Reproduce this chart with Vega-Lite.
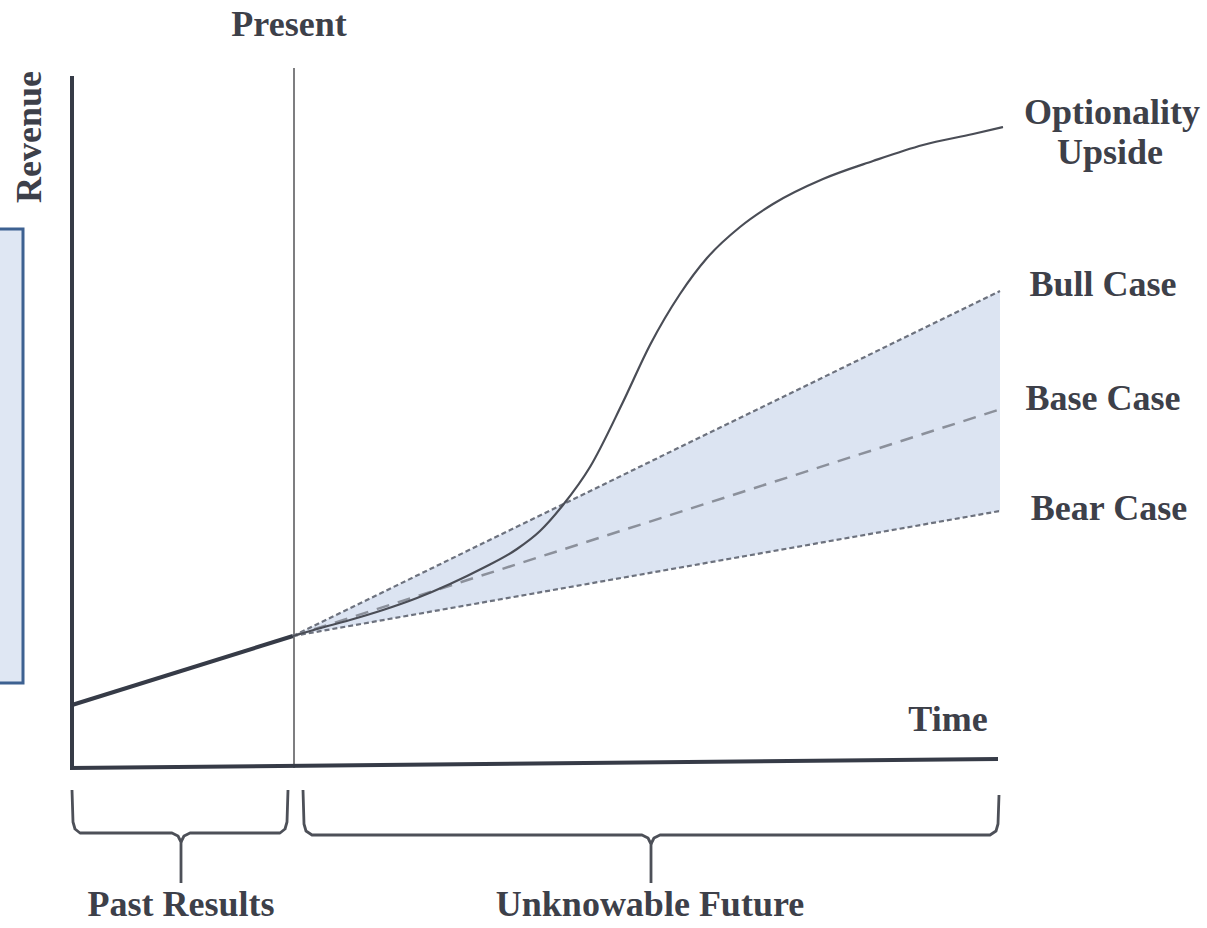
{
  "$schema": "https://vega.github.io/schema/vega-lite/v6.json",
  "autosize": {"type": "none"},
  "width": 1207,
  "height": 928,
  "padding": 0,
  "background": "white",
  "config": {"view": {"stroke": null}},
  "encoding": {
    "x": {"field": "x", "type": "quantitative", "scale": {"domain": [0, 1207], "nice": false, "zero": false}, "axis": null},
    "y": {"field": "y", "type": "quantitative", "scale": {"domain": [0, 928], "nice": false, "zero": false}, "axis": null}
  },
  "layer": [
    {
      "data": {"values": [{"x0": -5, "x1": 23, "y0": 245, "y1": 699}]},
      "mark": {"type": "rect", "fill": "#dfe7f3", "stroke": "#3d6191", "strokeWidth": 3},
      "encoding": {
        "x": {"field": "x0", "type": "quantitative"},
        "x2": {"field": "x1"},
        "y": {"field": "y0", "type": "quantitative"},
        "y2": {"field": "y1"}
      }
    },
    {
      "data": {"values": [{"x": 293, "hi": 292, "lo": 292}, {"x": 1000, "hi": 637, "lo": 417}]},
      "mark": {"type": "area", "fill": "#dce4f2", "opacity": 1},
      "encoding": {
        "y": {"field": "hi", "type": "quantitative"},
        "y2": {"field": "lo"}
      }
    },
    {
      "data": {"values": [
        {"id": "present", "x": 294, "y": 860},
        {"id": "present", "x": 294, "y": 160}
      ]},
      "mark": {"type": "line", "color": "#7e7e80", "strokeWidth": 2},
      "encoding": {"detail": {"field": "id"}}
    },
    {
      "data": {"values": [
        {"id": "yaxis", "x": 72, "y": 852},
        {"id": "yaxis", "x": 72, "y": 160},
        {"id": "xaxis", "x": 70, "y": 160},
        {"id": "xaxis", "x": 998, "y": 169},
        {"id": "past", "x": 72, "y": 223},
        {"id": "past", "x": 293, "y": 292}
      ]},
      "mark": {"type": "line", "color": "#363b47", "strokeWidth": 4},
      "encoding": {"detail": {"field": "id"}}
    },
    {
      "data": {"values": [
        {"id": "bull", "x": 293, "y": 292},
        {"id": "bull", "x": 1000, "y": 637},
        {"id": "bear", "x": 293, "y": 292},
        {"id": "bear", "x": 1000, "y": 417}
      ]},
      "mark": {"type": "line", "color": "#6d727e", "strokeWidth": 2.2, "strokeDash": [5, 3]},
      "encoding": {"detail": {"field": "id"}}
    },
    {
      "data": {"values": [
        {"x": 293, "y": 292},
        {"x": 998, "y": 518}
      ]},
      "mark": {"type": "line", "color": "#8b909b", "strokeWidth": 2.5, "strokeDash": [13, 9]}
    },
    {
      "data": {"values": [
        {"x": 293, "y": 292},
        {"x": 317, "y": 299},
        {"x": 350, "y": 308},
        {"x": 383, "y": 318},
        {"x": 417, "y": 330},
        {"x": 450, "y": 344},
        {"x": 483, "y": 360},
        {"x": 517, "y": 379},
        {"x": 540, "y": 397},
        {"x": 563, "y": 423},
        {"x": 590, "y": 461},
        {"x": 623, "y": 526},
        {"x": 650, "y": 583},
        {"x": 680, "y": 634},
        {"x": 707, "y": 670},
        {"x": 740, "y": 701},
        {"x": 773, "y": 724},
        {"x": 823, "y": 749},
        {"x": 873, "y": 767},
        {"x": 923, "y": 783},
        {"x": 973, "y": 794},
        {"x": 1003, "y": 801}
      ]},
      "mark": {"type": "line", "color": "#4a4d56", "strokeWidth": 2.2, "interpolate": "monotone"}
    },
    {
      "data": {"values": [
        {"id": "l1", "x": 72, "y": 138}, {"id": "l1", "x": 73, "y": 106}, {"id": "l1", "x": 75, "y": 99}, {"id": "l1", "x": 80, "y": 95}, {"id": "l1", "x": 172, "y": 95}, {"id": "l1", "x": 178, "y": 92}, {"id": "l1", "x": 181, "y": 86}, {"id": "l1", "x": 181, "y": 45},
        {"id": "l2", "x": 181, "y": 86}, {"id": "l2", "x": 184, "y": 92}, {"id": "l2", "x": 190, "y": 95}, {"id": "l2", "x": 280, "y": 95}, {"id": "l2", "x": 285, "y": 99}, {"id": "l2", "x": 287, "y": 106}, {"id": "l2", "x": 288, "y": 138},
        {"id": "r1", "x": 303, "y": 138}, {"id": "r1", "x": 304, "y": 104}, {"id": "r1", "x": 306, "y": 97}, {"id": "r1", "x": 312, "y": 93}, {"id": "r1", "x": 642, "y": 93}, {"id": "r1", "x": 648, "y": 90}, {"id": "r1", "x": 651, "y": 84}, {"id": "r1", "x": 651, "y": 45},
        {"id": "r2", "x": 651, "y": 84}, {"id": "r2", "x": 654, "y": 90}, {"id": "r2", "x": 660, "y": 93}, {"id": "r2", "x": 990, "y": 93}, {"id": "r2", "x": 996, "y": 97}, {"id": "r2", "x": 998, "y": 104}, {"id": "r2", "x": 999, "y": 133}
      ]},
      "mark": {"type": "line", "color": "#4d5058", "strokeWidth": 2.8, "strokeJoin": "round"},
      "encoding": {"detail": {"field": "id"}}
    },
    {
      "data": {"values": [
        {"label": "Present", "x": 289, "y": 903},
        {"label": "Optionality", "x": 1112, "y": 815},
        {"label": "Upside", "x": 1110, "y": 775},
        {"label": "Bull Case", "x": 1103, "y": 643},
        {"label": "Base Case", "x": 1103, "y": 529},
        {"label": "Bear Case", "x": 1109, "y": 419},
        {"label": "Time", "x": 948, "y": 208},
        {"label": "Past Results", "x": 181, "y": 23},
        {"label": "Unknowable Future", "x": 650, "y": 23}
      ]},
      "mark": {"type": "text", "font": "Times New Roman, Liberation Serif, DejaVu Serif, serif", "fontWeight": "bold", "fontSize": 36, "color": "#3d4049", "align": "center", "baseline": "middle"},
      "encoding": {"text": {"field": "label"}}
    },
    {
      "data": {"values": [{"label": "Revenue", "x": 30, "y": 791}]},
      "mark": {"type": "text", "font": "Times New Roman, Liberation Serif, DejaVu Serif, serif", "fontWeight": "bold", "fontSize": 36, "color": "#3d4049", "align": "center", "baseline": "middle", "angle": 270},
      "encoding": {"text": {"field": "label"}}
    }
  ]
}
